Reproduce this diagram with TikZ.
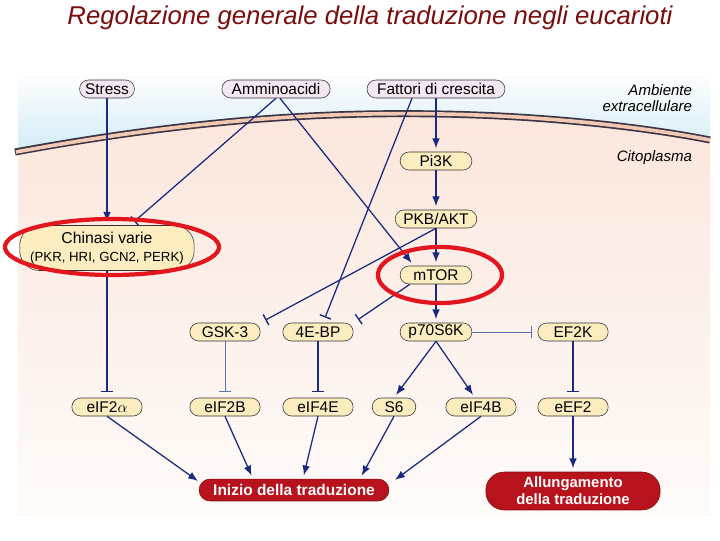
\documentclass[tikz,border=0pt]{standalone}
\usepackage{fontspec}
\setmainfont{Liberation Sans}
\usepackage{xcolor}
\usepackage{tikz}
\usetikzlibrary{positioning}
\usetikzlibrary{shapes,calc,arrows.meta}
\definecolor{navy}{HTML}{1A2A80}
\definecolor{paleline}{HTML}{5573B5}
\definecolor{protfill}{HTML}{FBEDBF}
\definecolor{topfill}{HTML}{F3E7F3}
\definecolor{outred}{HTML}{B8121C}
\definecolor{ringred}{HTML}{E3161F}
\definecolor{titlered}{HTML}{7A0C0C}
\definecolor{skyblue}{HTML}{D3ECF6}
\definecolor{peach}{HTML}{FAE4D9}
\definecolor{membdark}{HTML}{3A3444}
\definecolor{membfill}{HTML}{F2C8B2}

\begin{document}
\begin{tikzpicture}[x=0.025cm,y=-0.025cm,
  act/.style={-{Latex[length=7pt,width=5.5pt]},draw=navy,line width=.9pt,shorten >=2.5pt},
  inh/.style={-{Bar[width=8.5pt,line width=1pt]},draw=navy,line width=.9pt,shorten >=4pt},
  pale/.style={draw=paleline,line width=.7pt},
  prot node/.style={draw=black!80,fill=protfill,rounded corners=6.3pt,minimum height=12.8pt,
    minimum width=50pt,inner sep=1pt,font=\fontsize{11}{12}\selectfont},
  top node/.style={prot node,fill=topfill},
  out node/.style={draw=outred!70!black,fill=outred,text=white,inner sep=1pt,
    font=\bfseries\fontsize{11}{12}\selectfont,align=center},
  side label/.style={anchor=east,align=right,font=\itshape\fontsize{10.7}{11.5}\selectfont},
  ring/.style={draw=ringred,line width=3pt}]
\useasboundingbox (0,0) rectangle (720,540);
\fill[white] (0,0) rectangle (720,540);
\shade[top color=peach,bottom color=peach!15] (18,72) rectangle (710,515);
\shade[top color=white,bottom color=skyblue] (18,72) -- (710,72) -- (710,140)
  .. controls (660,130) and (560,116) .. (440,114)
  .. controls (330,112) and (200,118) .. (18,151.5) -- cycle;
\draw[membdark,line width=5pt] (15,152) .. controls (200,118) and (330,112) .. (440,114)
  .. controls (560,116) and (660,130) .. (710,140);
\draw[membfill,line width=2.6pt] (16,152) .. controls (200,118) and (330,112) .. (440,114)
  .. controls (560,116) and (660,130) .. (710,140);

\node[font=\itshape\fontsize{18.3}{20}\selectfont,text=titlered] at (370,18) (Title)
  {Regolazione generale della traduzione negli eucarioti};
\node[side label] at (697,98) (Ambiente) {Ambiente\\extracellulare};
\node[side label] at (697,158) (Cito) {Citoplasma};

\node[top node,minimum width=39pt] at (107,89) (Stress) {Stress};
\node[top node,minimum width=77pt] at (276,89) (Amino) {Amminoacidi};
\node[top node,minimum width=98pt] at (436,89) (Fattori) {Fattori di crescita};
\node[prot node,minimum width=51pt] at (436,161) (PiK) {Pi3K};
\node[prot node,minimum width=58pt] at (436,219) (PKB) {PKB/AKT};
\node[prot node,minimum width=51pt] at (436,275) (mTOR) {mTOR};
\node[prot node,minimum width=124pt,minimum height=32pt,rounded corners=14pt,align=center,
  font=\fontsize{11.2}{12.5}\selectfont] at (107,248) (Kin)
  {Chinasi varie\\{\fontsize{9.4}{11}\selectfont(PKR, HRI, GCN2, PERK)}};
\node[prot node] at (225,332) (GSK) {GSK-3};
\node[prot node] at (318,332) (EBP) {4E-BP};
\node[prot node,minimum width=51pt] at (436,332) (SixK) {p70S6K};
\node[prot node] at (573,332) (EFK) {EF2K};
\node[prot node] at (107,407) (eIFa) {eIF2$\alpha$};
\node[prot node] at (225,407) (eIFtwoB) {eIF2B};
\node[prot node] at (318,407) (eIFfourE) {eIF4E};
\node[prot node,minimum width=31pt] at (394,407) (Ssix) {S6};
\node[prot node] at (481,407) (eIFfourB) {eIF4B};
\node[prot node] at (573,407) (eEFtwo) {eEF2};
\node[out node,minimum width=135pt,minimum height=15.6pt,rounded corners=7.8pt] at (294,490) (Inizio)
  {Inizio della traduzione};
\node[out node,minimum width=124pt,minimum height=27pt,rounded corners=13pt,
  font=\bfseries\fontsize{10.6}{12}\selectfont] at (573,491) (Allung)
  {Allungamento\\della traduzione};

\draw[act] (Stress) -- (Kin);
\draw[inh] (Amino.south) -- ($(Kin.north)+(23,0)$);
\draw[act] ($(Amino.south)+(4,0)$) -- ($(mTOR.north west)+(14,0)$);
\draw[inh] ($(Fattori.south)+(-24,0)$) -- ($(EBP.north)+(5,0)$);
\draw[act] (Fattori) -- (PiK);
\draw[act] (PiK) -- (PKB);
\draw[act] (PKB) -- (mTOR);
\draw[act] (mTOR) -- (SixK);
\draw[inh] (PKB.south) -- (GSK.north east);
\draw[inh] ($(mTOR.south west)+(10,0)$) -- (EBP.north east);
\draw[inh,pale] (SixK) -- (EFK);
\draw[act] (SixK.south) -- (Ssix.north);
\draw[act] (SixK.south) -- ($(eIFfourB.north)+(-6,0)$);
\draw[inh] (EFK) -- (eEFtwo);
\draw[inh] (Kin) -- (eIFa);
\draw[inh,pale] (GSK) -- (eIFtwoB);
\draw[inh] (EBP) -- (eIFfourE);
\draw[act] (eIFa.south) -- ($(Inizio.west)+(2,-7)$);
\draw[act] (eIFtwoB.south) -- ($(Inizio.north)+(-41,0)$);
\draw[act] (eIFfourE.south) -- ($(Inizio.north)+(9,0)$);
\draw[act] (Ssix.south) -- ($(Inizio.north)+(66,0)$);
\draw[act] (eIFfourB.south) -- ($(Inizio.east)+(3,-8)$);
\draw[act] (eEFtwo) -- (Allung);

\draw[ring] (112,247) ellipse [x radius=107, y radius=28];
\draw[ring] (440,275) ellipse [x radius=62, y radius=28];
\end{tikzpicture}
\end{document}
